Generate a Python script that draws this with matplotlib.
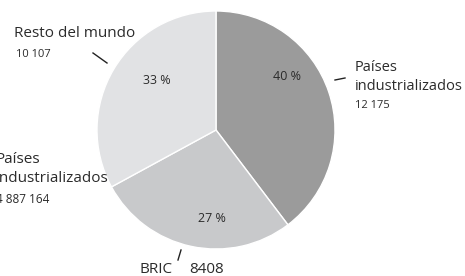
import matplotlib.pyplot as plt

labels = ['Países\nindustrializados', 'BRIC', 'Resto del mundo']
values = [12175, 8408, 10107]
value_text = ['12 175', '8408', '10 107']
colors = ['#9b9b9b', '#c8c9cb', '#e1e2e4']

plt.rcParams['font.family'] = ['Open Sans', 'DejaVu Sans']
W, H = 465, 276
fig = plt.figure(figsize=(W / 100, H / 100), dpi=100)
ax = fig.add_axes([0, 0, 1, 1])

# pie, centre/radius in pixels (y from the bottom)
cx, cy, r = 216, H - 130, 119
ax.pie(values, colors=colors, startangle=90, counterclock=False,
       center=(cx, cy), radius=r,
       wedgeprops=dict(edgecolor='white', linewidth=1.0))

total = sum(values)
pct = [round(v / total * 100) for v in values]
tc = '#2b2b2b'

# percent labels
ax.text(287, H - 76, f'{pct[0]} %', ha='center', va='center', fontsize=9, color=tc)
ax.text(212, H - 218, f'{pct[1]} %', ha='center', va='center', fontsize=9, color=tc)
ax.text(157, H - 80, f'{pct[2]} %', ha='center', va='center', fontsize=9, color=tc)

# outside labels
ax.text(355, H - 90, labels[0], ha='left', va='baseline', fontsize=10.5,
        color=tc, linespacing=1.4)
ax.text(355, H - 108, value_text[0], ha='left', va='baseline', fontsize=8, color=tc)
ax.plot([335, 345], [H - 80, H - 78], color='#222222', lw=1)

ax.text(14, H - 37, labels[2], ha='left', va='baseline', fontsize=11, color=tc)
ax.text(16, H - 57, value_text[2], ha='left', va='baseline', fontsize=8, color=tc)
ax.plot([93, 107], [H - 53, H - 63], color='#222222', lw=1)

ax.text(139, H - 273, labels[1], ha='left', va='baseline', fontsize=11, color=tc)
ax.text(189, H - 273, value_text[1], ha='left', va='baseline', fontsize=11, color=tc)
ax.plot([178, 181], [H - 260, H - 250], color='#222222', lw=1)

# stray label at the left edge
ax.text(-4, H - 182, 'Países\nindustrializados', ha='left', va='baseline',
        fontsize=11, color=tc, linespacing=1.35)
ax.text(-4, H - 203, '4 887 164', ha='left', va='baseline', fontsize=8.5, color=tc)

ax.set_xlim(0, W)
ax.set_ylim(0, H)
ax.set_aspect('equal')
ax.axis('off')

fig.savefig('out.png', dpi=100)
